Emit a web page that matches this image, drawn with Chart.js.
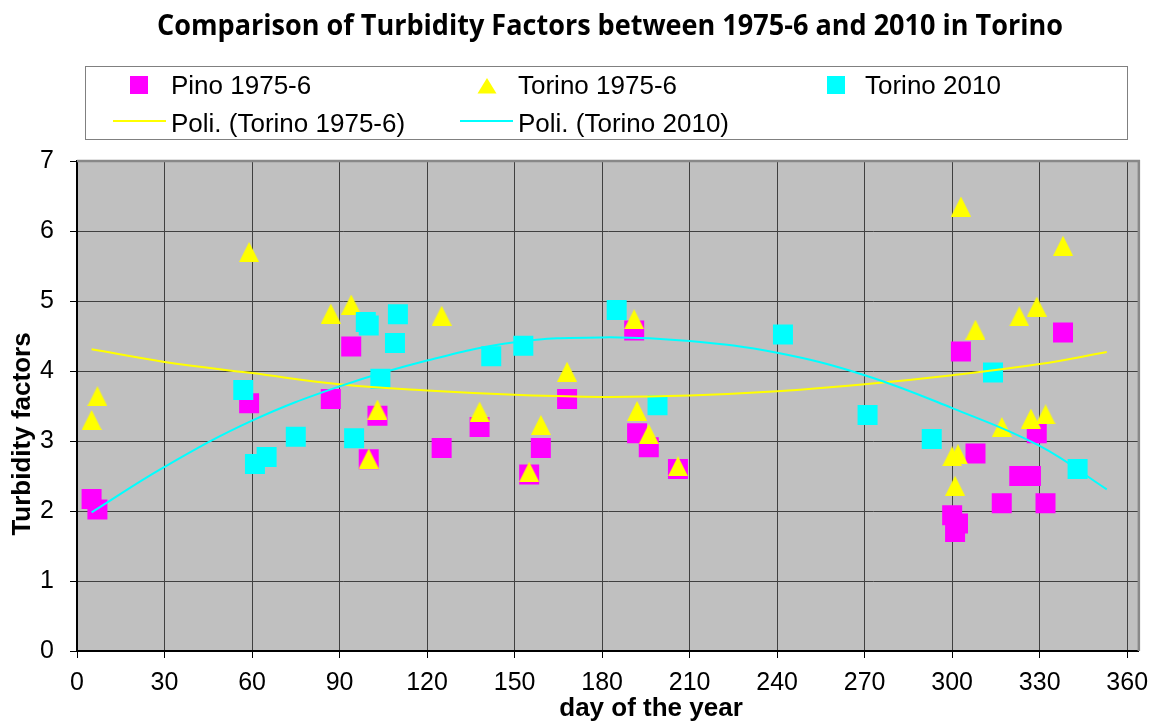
<!DOCTYPE html>
<html>
<head>
<meta charset="utf-8">
<title>Turbidity factors - Torino</title>
<script src="https://cdn.jsdelivr.net/npm/chart.js@4.4.0/dist/chart.umd.min.js"></script>
<style>
  html, body { margin: 0; padding: 0; background: #fff; }
  #turbidity { display: block; }
</style>
</head>
<body>
<canvas id="turbidity" width="1153" height="722"></canvas>
<script>
var chartTitle = 'Comparison of Turbidity Factors between 1975-6 and 2010 in Torino';
var xTitle = 'day of the year';
var yTitle = 'Turbidity factors';

var dayTicks = [0, 30, 60, 90, 120, 150, 180, 210, 240, 270, 300, 330, 360];
var valueTicks = [0, 1, 2, 3, 4, 5, 6, 7];

// Pino 1975-6
var pinoDays = [5, 7, 59, 87, 94, 100, 103, 125, 138, 155, 159, 168, 191, 192, 196, 206,
  300, 301, 302, 303, 308, 317, 323, 327, 329, 332, 338];
var pinoValues = [2.17, 2.02, 3.54, 3.60, 4.35, 2.74, 3.36, 2.90, 3.20, 2.52, 2.90, 3.60, 4.58, 3.11, 2.91, 2.60,
  1.94, 1.70, 1.82, 4.28, 2.82, 2.11, 2.50, 2.50, 3.11, 2.11, 4.55];

// Torino 1975-6
var oldDays = [5, 7, 59, 87, 94, 100, 103, 125, 138, 155, 159, 168, 191, 192, 196, 206,
  300, 301, 302, 303, 308, 317, 323, 327, 329, 332, 338];
var oldValues = [3.30, 3.64, 5.70, 4.82, 4.95, 2.75, 3.45, 4.79, 3.42, 2.56, 3.23, 3.99, 4.74, 3.43, 3.10, 2.64,
  2.78, 2.36, 2.81, 6.35, 4.59, 3.20, 4.78, 3.32, 4.92, 3.38, 5.79];

// Torino 2010
var newDays = [57, 61, 65, 75, 95, 99, 100, 104, 109, 110, 142, 153, 185, 199, 242, 271, 293, 314, 343];
var newValues = [3.73, 2.67, 2.77, 3.06, 3.04, 4.70, 4.65, 3.89, 4.40, 4.81, 4.21, 4.36, 4.87, 3.51, 4.52,
  3.37, 3.03, 3.98, 2.60];

// polynomial trend lines
var trendDays = [5, 30, 60, 90, 120, 150, 180, 210, 240, 270, 300, 330, 353];
var trendOld = [4.31, 4.13, 3.97, 3.81, 3.72, 3.66, 3.63, 3.65, 3.71, 3.81, 3.94, 4.10, 4.27];
var trendNew = [1.98, 2.63, 3.29, 3.78, 4.15, 4.41, 4.48, 4.43, 4.26, 3.94, 3.47, 2.93, 2.31];

var MAGENTA = '#ff00ff', YELLOW = '#ffff00', CYAN = '#00ffff';

function pairs(xs, ys) {
  var out = [];
  for (var i = 0; i < xs.length; i++) out.push({x: xs[i], y: ys[i]});
  return out;
}

// excel style triangle marker (as wide as it is tall)
function triangleMarker(w, h, color) {
  var c = document.createElement('canvas');
  c.width = w; c.height = h;
  var g = c.getContext('2d');
  g.fillStyle = color;
  g.beginPath();
  g.moveTo(w / 2, 0);
  g.lineTo(w, h);
  g.lineTo(0, h);
  g.closePath();
  g.fill();
  return c;
}

var plotBackground = {
  id: 'plotBackground',
  beforeDraw: function(chart) {
    var a = chart.chartArea, ctx = chart.ctx;
    ctx.save();
    ctx.fillStyle = '#c0c0c0';
    ctx.fillRect(a.left, a.top, a.right - a.left, a.bottom - a.top);
    ctx.restore();
  },
  beforeDatasetsDraw: function(chart) {
    var a = chart.chartArea, ctx = chart.ctx;
    ctx.save();
    ctx.strokeStyle = '#888';
    ctx.lineWidth = 2.5;
    ctx.beginPath();
    ctx.moveTo(a.left, a.top);
    ctx.lineTo(a.right, a.top);
    ctx.lineTo(a.right, a.bottom);
    ctx.stroke();
    ctx.restore();
  }
};

var decorations = {
  id: 'decorations',
  afterDraw: function(chart) {
    var ctx = chart.ctx;
    var ds = chart.data.datasets;
    ctx.save();

    // title, narrowed to the width of a condensed face
    ctx.fillStyle = '#000';
    ctx.font = 'bold 28px "Open Sans"';
    ctx.textAlign = 'center';
    ctx.textBaseline = 'alphabetic';
    var w = ctx.measureText(chartTitle).width;
    ctx.save();
    ctx.translate(610, 35);
    ctx.scale(906 / w, 1);
    ctx.fillText(chartTitle, 0, 0);
    ctx.restore();

    // axis titles
    ctx.font = 'bold 26px "Liberation Sans"';
    ctx.fillText(xTitle, 651, 716);
    ctx.save();
    ctx.translate(30, 434);
    ctx.rotate(-Math.PI / 2);
    ctx.fillText(yTitle, 0, 0);
    ctx.restore();

    // legend box
    ctx.fillStyle = '#fff';
    ctx.fillRect(85.5, 66.5, 1042, 73);
    ctx.strokeStyle = '#808080';
    ctx.lineWidth = 1;
    ctx.strokeRect(85.5, 66.5, 1042, 73);

    ctx.font = '26px "Liberation Sans"';
    ctx.textAlign = 'left';
    ctx.fillStyle = '#000';
    var row1 = 94, row2 = 131.5;
    ctx.fillText(ds[0].label, 171, row1);
    ctx.fillText(ds[1].label, 518, row1);
    ctx.fillText(ds[2].label, 865, row1);
    ctx.fillText(ds[3].label, 171, row2);
    ctx.fillText(ds[4].label, 518, row2);

    ctx.fillStyle = ds[0].backgroundColor;
    ctx.fillRect(130, 76, 18, 18);
    ctx.fillStyle = ds[2].backgroundColor;
    ctx.fillRect(827, 76, 18, 18);
    ctx.fillStyle = YELLOW;
    ctx.beginPath();
    ctx.moveTo(487, 78);
    ctx.lineTo(496.5, 93.5);
    ctx.lineTo(477.5, 93.5);
    ctx.closePath();
    ctx.fill();

    ctx.lineWidth = 2;
    ctx.strokeStyle = ds[3].borderColor;
    ctx.beginPath(); ctx.moveTo(113, 121); ctx.lineTo(166, 121); ctx.stroke();
    ctx.strokeStyle = ds[4].borderColor;
    ctx.beginPath(); ctx.moveTo(460, 121); ctx.lineTo(513, 121); ctx.stroke();

    ctx.restore();
  }
};

var tickFont = {family: '"Liberation Sans"', size: 25};

var chart = new Chart(document.getElementById('turbidity'), {
  type: 'scatter',
  data: {
    datasets: [
      {
        label: 'Pino 1975-6',
        data: pairs(pinoDays, pinoValues),
        backgroundColor: MAGENTA,
        borderColor: MAGENTA,
        pointStyle: 'rect',
        pointRadius: 14.14,
        pointBorderWidth: 0,
        order: 4
      },
      {
        label: 'Torino 1975-6',
        data: pairs(oldDays, oldValues),
        backgroundColor: YELLOW,
        borderColor: YELLOW,
        pointStyle: triangleMarker(20, 20, YELLOW),
        order: 3
      },
      {
        label: 'Torino 2010',
        data: pairs(newDays, newValues),
        backgroundColor: CYAN,
        borderColor: CYAN,
        pointStyle: 'rect',
        pointRadius: 14.14,
        pointBorderWidth: 0,
        order: 2
      },
      {
        label: 'Poli. (Torino 1975-6)',
        data: pairs(trendDays, trendOld),
        showLine: true,
        borderColor: YELLOW,
        borderWidth: 2,
        pointRadius: 0,
        tension: 0.4,
        order: 1
      },
      {
        label: 'Poli. (Torino 2010)',
        data: pairs(trendDays, trendNew),
        showLine: true,
        borderColor: CYAN,
        borderWidth: 2,
        pointRadius: 0,
        tension: 0.4,
        order: 0
      }
    ]
  },
  options: {
    responsive: false,
    animation: false,
    layout: {padding: {top: 161, left: 0, right: 12, bottom: 0}},
    plugins: {
      legend: {display: false},
      title: {display: false},
      tooltip: {enabled: false}
    },
    scales: {
      x: {
        type: 'linear',
        min: 0,
        max: 364,
        afterBuildTicks: function(scale) {
          scale.ticks = dayTicks.map(function(v) { return {value: v}; });
        },
        afterFit: function(scale) {
          scale.height = 71;
          scale.paddingLeft = 0;
          scale.paddingRight = 0;
        },
        grid: {color: '#404040', lineWidth: 1, tickLength: 7, tickColor: '#000'},
        border: {display: true, color: '#000', width: 2},
        ticks: {font: tickFont, color: '#000', padding: 10, maxRotation: 0, autoSkip: false}
      },
      y: {
        type: 'linear',
        min: 0,
        max: 7,
        afterBuildTicks: function(scale) {
          scale.ticks = valueTicks.map(function(v) { return {value: v}; });
        },
        afterFit: function(scale) {
          scale.width = 77;
          scale.paddingTop = 0;
          scale.paddingBottom = 0;
        },
        grid: {color: '#404040', lineWidth: 1, tickLength: 7, tickColor: '#000'},
        border: {display: true, color: '#000', width: 2},
        ticks: {font: tickFont, color: '#000', padding: 16}
      }
    }
  },
  plugins: [plotBackground, decorations]
});
</script>
</body>
</html>
